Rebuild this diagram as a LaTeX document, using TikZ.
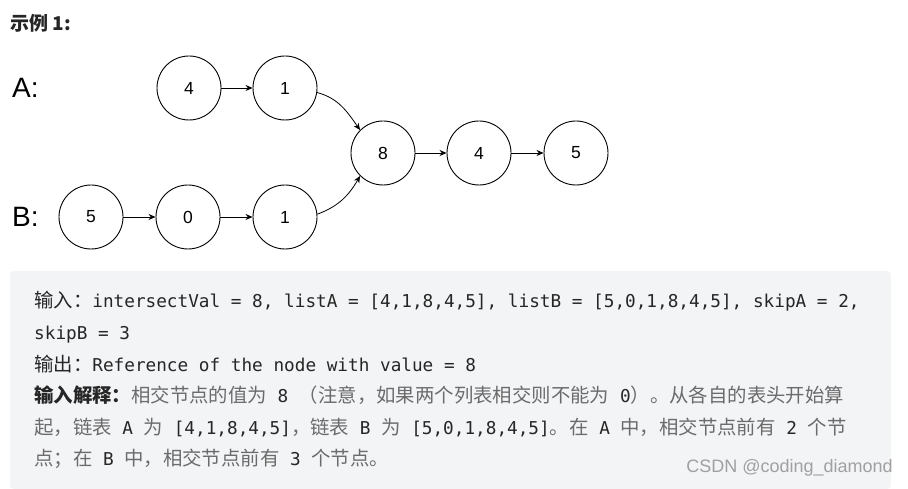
\documentclass[tikz,border=0pt]{standalone}
\usepackage{fontspec}
\usetikzlibrary{arrows.meta}
\setmainfont{Liberation Sans}
\newfontfamily\cjk{Noto Sans CJK SC}
\newfontfamily\monof{DejaVu Sans Mono}
\definecolor{boxbg}{HTML}{F3F4F6}
\definecolor{txtdark}{HTML}{262626}
\definecolor{txtgray}{HTML}{6B6B6B}
\definecolor{wmgray}{HTML}{A0A0A0}
\newcommand\cj[1]{{\cjk\fontsize{19.4}{22}\selectfont #1}}
\newcommand\cjb[1]{{\cjk\bfseries\fontsize{19.4}{22}\selectfont #1}}
\newcommand\cjg[1]{{\color{txtgray}\cjk\fontsize{19.4}{22}\selectfont #1}}
\begin{document}
\begin{tikzpicture}[x=1pt,y=-1pt,
  lnode/.style={circle,draw=black,line width=0.9pt,minimum size=64pt,inner sep=0pt,font=\fontsize{17.5}{20}\selectfont},
  arr/.style={-{Stealth[length=7pt,width=6pt]},line width=0.8pt},
  lbl/.style={inner sep=0pt,font=\fontsize{28}{30}\selectfont},
  txtline/.style={anchor=base west,inner sep=0pt,text=txtdark,font=\monof\fontsize{17.7}{22}\selectfont}
]
\useasboundingbox (0,0) rectangle (908,489);
% title
\node[anchor=west,inner sep=0pt,text=txtdark] (title) at (10,23) {\cjk\bfseries\fontsize{19}{21}\selectfont 示例 1:};
% labels
\node[lbl,anchor=west] (la) at (12,88) {A:};
\node[lbl,anchor=west] (lb) at (12,217) {B:};
% nodes
\node[lnode] (a4) at (189,88) {4};
\node[lnode] (a1) at (285,88) {1};
\node[lnode] (c8) at (383,153) {8};
\node[lnode] (c4) at (479,153) {4};
\node[lnode] (c5) at (576,153) {5};
\node[lnode] (b5) at (91,217) {5};
\node[lnode] (b0) at (188,217) {0};
\node[lnode] (b1) at (285,217) {1};
% edges
\draw[arr] (a4) -- (a1);
\draw[arr] (c8) -- (c4);
\draw[arr] (c4) -- (c5);
\draw[arr] (b5) -- (b0);
\draw[arr] (b0) -- (b1);
\draw[arr] (a1.-8) to[out=-15,in=125] (c8.135);
\draw[arr] (b1.5) to[out=20,in=-120] (c8.-135);
% box
\fill[boxbg,rounded corners=4pt] (10,271) rectangle (891,489);
\node[txtline] (t1) at (34,307) {\cj{输入：}intersectVal = 8, listA = [4,1,8,4,5], listB = [5,0,1,8,4,5], skipA = 2,};
\node[txtline] (t2) at (34,339) {skipB = 3};
\node[txtline] (t3) at (34,371) {\cj{输出：}Reference of the node with value = 8};
\node[txtline] (t4) at (34,402.5) {\cjb{输入解释：}\cjg{相交节点的值为} 8 \cjg{（注意，如果两个列表相交则不能为} 0\cjg{）。从各自的表头开始算}};
\node[txtline] (t5) at (34,434) {\cjg{起，链表} A \cjg{为} [4,1,8,4,5]\cjg{，链表} B \cjg{为} [5,0,1,8,4,5]\cjg{。在} A \cjg{中，相交节点前有} 2 \cjg{个节}};
\node[txtline] (t6) at (34,465.5) {\cjg{点；在} B \cjg{中，相交节点前有} 3 \cjg{个节点。}};
% watermark
\node[anchor=east,inner sep=0pt,text=wmgray,font=\fontsize{18}{20}\selectfont] (wm) at (893,468) {CSDN @coding\_diamond};
\end{tikzpicture}
\end{document}
